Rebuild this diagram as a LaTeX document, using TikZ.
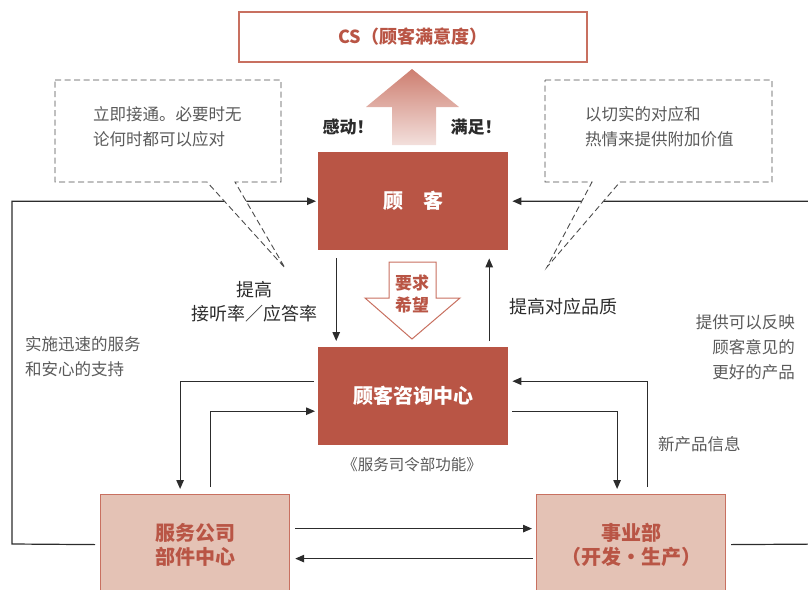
\documentclass[tikz,border=0pt]{standalone}
\usepackage{fontspec}
\setmainfont{Noto Sans CJK SC}
\usetikzlibrary{calc, arrows.meta, positioning}
\definecolor{brick}{HTML}{B95545}
\definecolor{rim}{HTML}{C87060}
\definecolor{blush}{HTML}{E4C2B5}
\definecolor{ink}{HTML}{2C2C2C}
\definecolor{note}{HTML}{5A5A5A}
\tikzset{
  darkbox/.style={fill=brick, text=white, font=\fontsize{20}{24}\selectfont\bfseries, minimum width=190pt, minimum height=98pt, inner sep=0pt, anchor=north west},
  lightbox/.style={fill=blush, draw=rim, line width=1.2pt, text=brick, font=\fontsize{20}{24}\selectfont\bfseries, align=center, minimum width=189pt, minimum height=100pt, inner sep=0pt, anchor=north west},
  conn/.style={ink, line width=1.2pt, -{Triangle[length=9pt,width=7.5pt]}},
  callout/.style={draw=ink!85, dash pattern=on 6pt off 3.5pt, line width=0.9pt, fill=white, line join=miter},
  notetext/.style={text=note, font=\fontsize{16.5}{25}\selectfont, align=left, inner sep=0pt},
  label/.style={text=ink, font=\fontsize{18}{24}\selectfont, align=center, inner sep=0pt}
}

\begin{document}
\begin{tikzpicture}[x=1pt, y=-1pt]
  \useasboundingbox (0,0) rectangle (808,589);

  % top goal
  \node[draw=rim, line width=1.5pt, text=brick, font=\fontsize{18}{22}\selectfont\bfseries,
        minimum width=348pt, minimum height=50pt, inner sep=0pt, anchor=north west] (cs) at (238,11) {CS（顾客满意度）};
  \shade[top color=rim!90, bottom color=rim!22]
     (366,107)--(412,69)--(459,107)--(436,107)--(436,145)--(392,145)--(392,107)--cycle;
  \node[text=ink, font=\fontsize{17}{20}\selectfont\bfseries] (gandong) at (348,127) {感动！};
  \node[text=ink, font=\fontsize{17}{20}\selectfont\bfseries] (manzu) at (476,127) {满足！};

  % main boxes
  \node[darkbox] (kehu) at (318,152) {顾　客};
  \node[darkbox] (zixun) at (318,347) {顾客咨询中心};
  \node[lightbox] (fuwu) at (100,494) {服务公司\\部件中心};
  \node[lightbox] (shiye) at (536,494) {事业部\\（开发·生产）};
  \node[text=note, font=\fontsize{15.5}{18}\selectfont] (gongneng) at (412,465) {《服务司令部功能》};

  % wishes arrow
  \draw[draw=rim, line width=1pt, fill=white]
     (389,262)--(436,262)--(436,298)--(460,298)--(412,339)--(365,298)--(389,298)--cycle;
  \node[text=brick, font=\fontsize{17}{22}\selectfont\bfseries, align=center, inner sep=0pt] (yaoqiu) at (412,294) {要求\\希望};

  % customer <-> center
  \draw[conn] ([xshift=-77pt,yshift=-8pt]kehu.south) -- ([xshift=-77pt,yshift=6pt]zixun.north);
  \draw[conn] ([xshift=76pt,yshift=6pt]zixun.north) -- ([xshift=76pt,yshift=-8pt]kehu.south);
  \node[label] (jieting) at (254,302) {提高\\接听率／应答率};
  \node[label, anchor=west] (pinzhi) at (509,307) {提高对应品质};

  % outer loops
  \draw[conn, shorten >=2pt] ($(fuwu.west)+(-5,0)$) -- (12,544) |- (kehu.west);
  \draw[conn, shorten >=4pt] ($(shiye.east)+(5,0)$) -- (830,544) |- (kehu.east);
  \node[notetext, anchor=north west] (xunsu) at (25,336) {实施迅速的服务\\和安心的支持};
  \node[notetext, anchor=north east, align=right] (fanying) at (795,314) {提供可以反映\\顾客意见的\\更好的产品};

  % center <-> service / business
  \draw[conn] ([xshift=-4pt,yshift=15pt]zixun.west) -| ([xshift=-15pt,yshift=5pt]fuwu.north);
  \draw[conn] ([xshift=15pt,yshift=7pt]fuwu.north) |- ([xshift=-3pt,yshift=-15pt]zixun.west);
  \draw[conn] ([xshift=16pt,yshift=7pt]shiye.north) |- ([xshift=4pt,yshift=15pt]zixun.east);
  \draw[conn] ([xshift=4pt,yshift=-15pt]zixun.east) -| ([xshift=-14pt,yshift=5pt]shiye.north);
  \node[notetext, anchor=west] (xinchanpin) at (658,444) {新产品信息};

  % service <-> business
  \draw[conn] ([xshift=5pt,yshift=16pt]fuwu.east) -- ([xshift=-4pt,yshift=16pt]shiye.west);
  \draw[conn] ([xshift=-3pt,yshift=-14pt]shiye.west) -- ([xshift=5pt,yshift=-14pt]fuwu.east);

  % callouts
  \draw[callout] (55,80)--(281,80)--(281,182)--(235,182)--(285,268)--(207,182)--(55,182)--cycle;
  \node[notetext, anchor=north west] (jietong) at (93,106) {立即接通。必要时无\\论何时都可以应对};
  \draw[callout] (545,80)--(772,80)--(772,182)--(620,182)--(547,267)--(592,182)--(545,182)--cycle;
  \node[notetext, anchor=north west] (qieshi) at (585,106) {以切实的对应和\\热情来提供附加价值};
\end{tikzpicture}
\end{document}
